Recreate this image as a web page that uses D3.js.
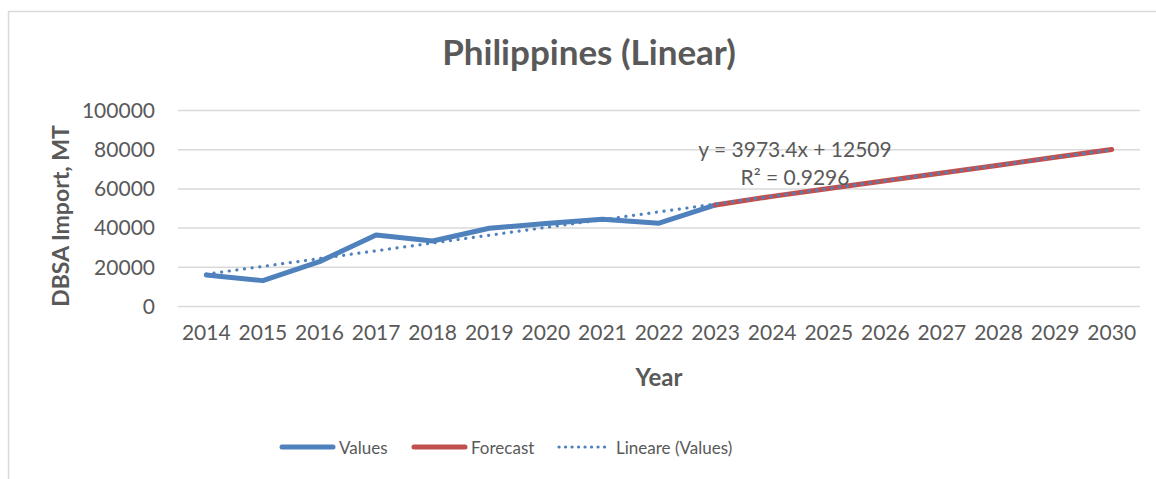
<!DOCTYPE html>
<html>
<head>
<meta charset="utf-8">
<script src="https://cdn.jsdelivr.net/npm/d3@7"></script>
<style>
  body { margin: 0; background: #fff; }
  svg { display: block; font-family: Lato, "Open Sans", sans-serif; }
</style>
</head>
<body>
<div id="chart"></div>
<script>
// data
var years = ["2014","2015","2016","2017","2018","2019","2020","2021","2022","2023",
             "2024","2025","2026","2027","2028","2029","2030"];
var values = [16100, 13200, 22900, 36500, 33400, 39900, 42400, 44500, 42500, 51800];
var forecastYears = ["2023","2024","2025","2026","2027","2028","2029","2030"];
var forecast = [51800, 56200, 60200, 64200, 68100, 72100, 76100, 80100];
var trendYears = ["2014", "2030"];
var trend = [16500, 80060];
var yTicks = [0, 20000, 40000, 60000, 80000, 100000];

var W = 1156, H = 479;
var margin = { left: 178, right: 16, top: 110.5, bottom: 172.5 };
var width = W - margin.left - margin.right,
    height = H - margin.top - margin.bottom;

var textColor = "#595959";
var blue = "#4f81bd", red = "#c0504d";

var svg = d3.select("#chart")
  .append("svg")
    .attr("width", W)
    .attr("height", H);

// chart border (only top / left show inside the window)
svg.append("rect")
  .attr("x", 8.5).attr("y", 11.5)
  .attr("width", W + 20).attr("height", H + 20)
  .attr("fill", "none")
  .attr("stroke", "#d9d9d9")
  .attr("stroke-width", 1.5);

var g = svg.append("g")
  .attr("transform", "translate(" + margin.left + "," + margin.top + ")");

var x = d3.scaleBand()
  .domain(years)
  .range([0, width]);

var y = d3.scaleLinear()
  .domain([0, 100000])
  .range([height, 0]);

var cx = function(d) { return x(d) + x.bandwidth() / 2; };

// gridlines
g.selectAll(".grid")
  .data(yTicks)
  .enter().append("line")
    .attr("x1", 0).attr("x2", width)
    .attr("y1", function(d) { return y(d); })
    .attr("y2", function(d) { return y(d); })
    .attr("stroke", "#d9d9d9")
    .attr("stroke-width", 1.5);

// Y axis labels
var yAxis = d3.axisLeft(y).tickValues(yTicks).tickSize(0).tickPadding(23)
  .tickFormat(d3.format("d"));
g.append("g")
  .attr("class", "y axis")
  .call(yAxis)
  .call(function(s) {
    s.select(".domain").remove();
    s.selectAll("text")
      .attr("fill", textColor)
      .attr("font-size", "21px")
      .attr("font-family", "Lato, sans-serif");
  });

// X axis labels
var xAxis = d3.axisBottom(x).tickSize(0).tickPadding(19);
g.append("g")
  .attr("class", "x axis")
  .attr("transform", "translate(0," + height + ")")
  .call(xAxis)
  .call(function(s) {
    s.select(".domain").remove();
    s.selectAll("text")
      .attr("fill", textColor)
      .attr("font-size", "21px")
      .attr("font-family", "Lato, sans-serif");
  });

var line = d3.line()
  .x(function(d) { return cx(d[0]); })
  .y(function(d) { return y(d[1]); });

// Values
g.append("path")
  .datum(values.map(function(v, i) { return [years[i], v]; }))
  .attr("d", line)
  .attr("fill", "none")
  .attr("stroke", blue)
  .attr("stroke-width", 5)
  .attr("stroke-linejoin", "round")
  .attr("stroke-linecap", "round");

// Forecast
g.append("path")
  .datum(forecast.map(function(v, i) { return [forecastYears[i], v]; }))
  .attr("d", line)
  .attr("fill", "none")
  .attr("stroke", red)
  .attr("stroke-width", 5)
  .attr("stroke-linecap", "round");

// Linear trend (dotted)
g.append("path")
  .datum(trend.map(function(v, i) { return [trendYears[i], v]; }))
  .attr("d", line)
  .attr("fill", "none")
  .attr("stroke", blue)
  .attr("stroke-width", 3.2)
  .attr("stroke-linecap", "round")
  .attr("stroke-dasharray", "0.1 7.6");

// trend equation
var eq = svg.append("text")
  .attr("x", 795)
  .attr("text-anchor", "middle")
  .attr("fill", textColor)
  .attr("font-size", "21px");
eq.append("tspan").attr("x", 795).attr("y", 157).text("y = 3973.4x + 12509");
eq.append("tspan").attr("x", 795).attr("y", 185).text("R\u00b2 = 0.9296");

// Title
svg.append("text")
  .attr("x", 589)
  .attr("y", 65)
  .attr("text-anchor", "middle")
  .attr("fill", textColor)
  .attr("font-size", "35px")
  .attr("font-weight", "bold")
  .text("Philippines (Linear)");

// Y title
svg.append("text")
  .attr("transform", "translate(69,216) rotate(-90)")
  .attr("text-anchor", "middle")
  .attr("fill", textColor)
  .attr("font-size", "23px")
  .attr("font-weight", "bold")
  .text("DBSA Import, MT");

// X title
svg.append("text")
  .attr("x", 659)
  .attr("y", 386)
  .attr("text-anchor", "middle")
  .attr("fill", textColor)
  .attr("font-size", "24px")
  .attr("font-weight", "bold")
  .text("Year");

// Legend
var legendItems = [
  { name: "Values", color: blue, x: 282, dash: null, w: 5 },
  { name: "Forecast", color: red, x: 414, dash: null, w: 5 },
  { name: "Lineare (Values)", color: blue, x: 559, dash: "0.1 6.4", w: 3.2 }
];
var legend = svg.selectAll(".legend")
  .data(legendItems)
  .enter().append("g")
    .attr("class", "legend")
    .attr("transform", function(d) { return "translate(" + d.x + ",447)"; });

legend.append("line")
  .attr("x1", 0).attr("x2", 51)
  .attr("y1", 0).attr("y2", 0)
  .attr("stroke", function(d) { return d.color; })
  .attr("stroke-width", function(d) { return d.w; })
  .attr("stroke-linecap", "round")
  .attr("stroke-dasharray", function(d) { return d.dash; });

legend.append("text")
  .attr("x", 57)
  .attr("y", 7)
  .attr("fill", textColor)
  .attr("font-size", "17px")
  .text(function(d) { return d.name; });
</script>
</body>
</html>
